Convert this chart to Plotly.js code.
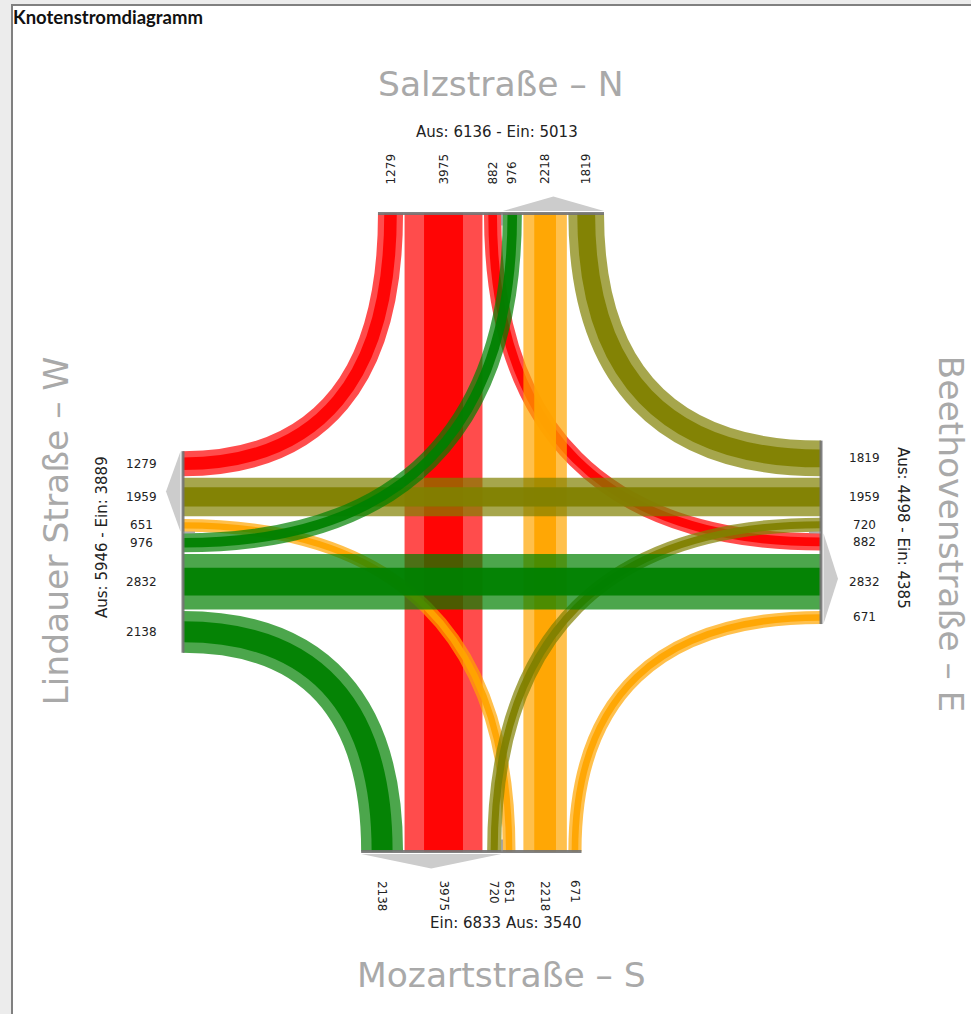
<!DOCTYPE html>
<html><head><meta charset="utf-8">
<script src="https://cdn.plot.ly/plotly-3.0.1.min.js"></script>
<style>html,body{margin:0;padding:0;background:#fff;overflow:hidden}#chart{width:971px;height:1014px}</style>
</head><body><div id="chart"></div>
<script>
// ---------------- DATA ----------------
const chartTitle = 'Knotenstromdiagramm';
const armCodes = ['N', 'E', 'S', 'W'];            // clockwise
const armNames = ['Salzstraße – N', 'Beethovenstraße – E', 'Mozartstraße – S', 'Lindauer Straße – W'];
const flowFrom  = ['N', 'N', 'N', 'S', 'S', 'S', 'E', 'E', 'E', 'W', 'W', 'W'];
const flowTo    = ['W', 'S', 'E', 'W', 'N', 'E', 'N', 'W', 'S', 'N', 'E', 'S'];
const flowValue = [1279, 3975, 882, 651, 2218, 671, 1819, 1959, 720, 976, 2832, 2138];
const originColor = { N: '255,0,0', S: '255,165,0', E: '128,128,0', W: '0,128,0' };
const drawOrder = ['N', 'S', 'E', 'W'];
const summaryOrder = { N: 'ausEin', E: 'ausEin', S: 'einAus', W: 'ausEin' };

// ---------------- LAYOUT CONSTANTS ----------------
const W = 971, H = 1014;
const cx = 502, cy = 532.5, half = 319;
const k = 0.0196;      // px per vehicle
const gap = 1.5;
const K = 0.66;        // curve tension
const normal = { N: [0, -1], E: [1, 0], S: [0, 1], W: [-1, 0] };

function pt(arm, u) {
  if (arm === 'N') return [cx - u, cy - half];
  if (arm === 'E') return [cx + half, cy - u];
  if (arm === 'S') return [cx + u, cy + half];
  return [cx - half, cy + u];
}
const idx = a => armCodes.indexOf(a);
const turn = i => (idx(flowTo[i]) - idx(flowFrom[i]) + 4) % 4;
const wid = flowValue.map(v => v * k);
const ids = flowValue.map((v, i) => i);

function sideList(arm, side) {
  return ids.filter(i => side === 'out' ? flowFrom[i] === arm : flowTo[i] === arm)
            .sort((a, b) => turn(a) - turn(b));
}
function naiveInner(arm, side, i) {
  let c = gap / 2;
  for (const j of sideList(arm, side)) { if (j === i) return c; c += wid[j] + gap; }
  return c;
}
const innerOut = [], innerIn = [];
const extent = {};
armCodes.forEach(arm => {
  extent[arm] = {};
  ['out', 'in'].forEach(side => {
    let c = gap / 2;
    for (const i of sideList(arm, side)) {
      if (turn(i) === 2) {
        c = Math.max(c, naiveInner(flowFrom[i], 'out', i), naiveInner(flowTo[i], 'in', i));
      }
      if (side === 'out') innerOut[i] = c; else innerIn[i] = c;
      c += wid[i] + gap;
    }
    extent[arm][side] = c - gap;
  });
});

// ---------------- SHAPES ----------------
const shapes = [];
const f = v => v.toFixed(2);
// background panel
shapes.push({ type: 'rect', xref: 'x', yref: 'y', x0: -5, y0: -5, x1: W + 5, y1: H + 5, fillcolor: '#ececec', line: { width: 0 }, layer: 'below' });
shapes.push({ type: 'rect', xref: 'x', yref: 'y', x0: 12, y0: 5, x1: W + 10, y1: H + 10, fillcolor: '#ffffff', line: { color: '#808080', width: 2 }, layer: 'below' });

// arrow triangles on the "Ein" side
armCodes.forEach(arm => {
  const n = normal[arm];
  const a = pt(arm, -gap / 2), b = pt(arm, -extent[arm].in), m = pt(arm, -(gap / 2 + extent[arm].in) / 2);
  const o1 = 2.5, o2 = 17;
  const p = `M ${f(a[0] + n[0] * o1)} ${f(a[1] + n[1] * o1)} L ${f(m[0] + n[0] * o2)} ${f(m[1] + n[1] * o2)} L ${f(b[0] + n[0] * o1)} ${f(b[1] + n[1] * o1)} Z`;
  shapes.push({ type: 'path', xref: 'x', yref: 'y', path: p, fillcolor: '#cccccc', line: { width: 0 } });
});

// flow bands
drawOrder.forEach(orig => {
  ids.filter(i => flowFrom[i] === orig).forEach(i => {
    const p0 = pt(flowFrom[i], innerOut[i] + wid[i] / 2);
    const p3 = pt(flowTo[i], -(innerIn[i] + wid[i] / 2));
    let path;
    if (turn(i) === 2) {
      path = `M ${f(p0[0])} ${f(p0[1])} L ${f(p3[0])} ${f(p3[1])}`;
    } else {
      const ns = (orig === 'N' || orig === 'S');
      const c = ns ? [p0[0], p3[1]] : [p3[0], p0[1]];
      const p1 = [p0[0] + K * (c[0] - p0[0]), p0[1] + K * (c[1] - p0[1])];
      const p2 = [p3[0] + K * (c[0] - p3[0]), p3[1] + K * (c[1] - p3[1])];
      path = `M ${f(p0[0])} ${f(p0[1])} C ${f(p1[0])} ${f(p1[1])} ${f(p2[0])} ${f(p2[1])} ${f(p3[0])} ${f(p3[1])}`;
    }
    const col = originColor[orig];
    shapes.push({ type: 'path', xref: 'x', yref: 'y', path, line: { color: `rgba(${col},0.7)`, width: wid[i] } });
    shapes.push({ type: 'path', xref: 'x', yref: 'y', path, line: { color: `rgba(${col},0.93)`, width: wid[i] * 0.5 } });
  });
});

// edge lines and dividers
armCodes.forEach(arm => {
  const a = pt(arm, -extent[arm].in), b = pt(arm, extent[arm].out);
  shapes.push({ type: 'path', xref: 'x', yref: 'y', path: `M ${f(a[0])} ${f(a[1])} L ${f(b[0])} ${f(b[1])}`, line: { color: 'rgba(115,115,115,0.9)', width: 3 } });
  const c = pt(arm, 0), n = normal[arm];
  shapes.push({ type: 'path', xref: 'x', yref: 'y', path: `M ${f(c[0])} ${f(c[1])} L ${f(c[0] - n[0] * 12)} ${f(c[1] - n[1] * 12)}`, line: { color: 'rgba(140,140,140,0.7)', width: 2 } });
});

// ---------------- ANNOTATIONS ----------------
const ann = [];
const numFont = { family: 'DejaVu Sans', size: 12, color: '#222' };
function valueLabel(arm, u, txt) {
  const p = pt(arm, u);
  const base = { xref: 'x', yref: 'y', text: txt, showarrow: false, font: numFont };
  if (arm === 'N') ann.push({ ...base, x: p[0], y: p[1] - 27, textangle: -90, xanchor: 'center', yanchor: 'bottom' });
  if (arm === 'S') ann.push({ ...base, x: p[0], y: p[1] + 27, textangle: 90, xanchor: 'center', yanchor: 'top' });
  if (arm === 'W') ann.push({ ...base, x: p[0] - 42, y: p[1], xanchor: 'center', yanchor: 'middle' });
  if (arm === 'E') ann.push({ ...base, x: p[0] + 43, y: p[1], xanchor: 'center', yanchor: 'middle' });
}
ids.forEach(i => {
  valueLabel(flowFrom[i], innerOut[i] + wid[i] / 2, String(flowValue[i]));
  valueLabel(flowTo[i], -(innerIn[i] + wid[i] / 2), String(flowValue[i]));
});

const sumFont = { family: 'DejaVu Sans', size: 15, color: '#222' };
const nameFont = { family: 'DejaVu Sans', size: 34.5, color: '#a9a9a9' };
armCodes.forEach((arm, ai) => {
  const aus = ids.filter(i => flowFrom[i] === arm).reduce((s, i) => s + flowValue[i], 0);
  const ein = ids.filter(i => flowTo[i] === arm).reduce((s, i) => s + flowValue[i], 0);
  const txt = summaryOrder[arm] === 'ausEin' ? `Aus: ${aus} - Ein: ${ein}` : `Ein: ${ein} Aus: ${aus}`;
  const base = { xref: 'x', yref: 'y', showarrow: false, xanchor: 'center', yanchor: 'middle' };
  if (arm === 'N') {
    ann.push({ ...base, text: txt, font: sumFont, x: cx - 5, y: cy - half - 82 });
    ann.push({ ...base, text: armNames[ai], font: nameFont, x: cx - 1, y: cy - half - 130 });
  } else if (arm === 'S') {
    ann.push({ ...base, text: txt, font: sumFont, x: cx + 4, y: cy + half + 71 });
    ann.push({ ...base, text: armNames[ai], font: nameFont, x: cx - 1, y: cy + half + 123 });
  } else if (arm === 'W') {
    ann.push({ ...base, text: txt, font: sumFont, x: cx - half - 81, y: cy + 4.5, textangle: -90 });
    ann.push({ ...base, text: armNames[ai], font: nameFont, x: cx - half - 128, y: cy - 1, textangle: -90 });
  } else {
    ann.push({ ...base, text: txt, font: sumFont, x: cx + half + 82, y: cy - 4.5, textangle: 90 });
    ann.push({ ...base, text: armNames[ai], font: nameFont, x: cx + half + 130, y: cy + 1, textangle: 90 });
  }
});

const layout = {
  width: W, height: H, autosize: false,
  margin: { l: 0, r: 0, t: 0, b: 0, pad: 0 },
  paper_bgcolor: '#ffffff', plot_bgcolor: 'rgba(0,0,0,0)',
  showlegend: false,
  title: { text: chartTitle, x: 13 / W, xanchor: 'left', xref: 'paper', y: 1 - 18 / H, yanchor: 'middle', yref: 'paper',
           font: { family: 'Lato', size: 18.5, color: '#111', weight: 'bold' } },
  xaxis: { range: [0, W], visible: false, fixedrange: true },
  yaxis: { range: [H, 0], visible: false, fixedrange: true },
  shapes, annotations: ann
};
Plotly.newPlot('chart', [], layout, { staticPlot: true, displayModeBar: false });
</script>
</body></html>
